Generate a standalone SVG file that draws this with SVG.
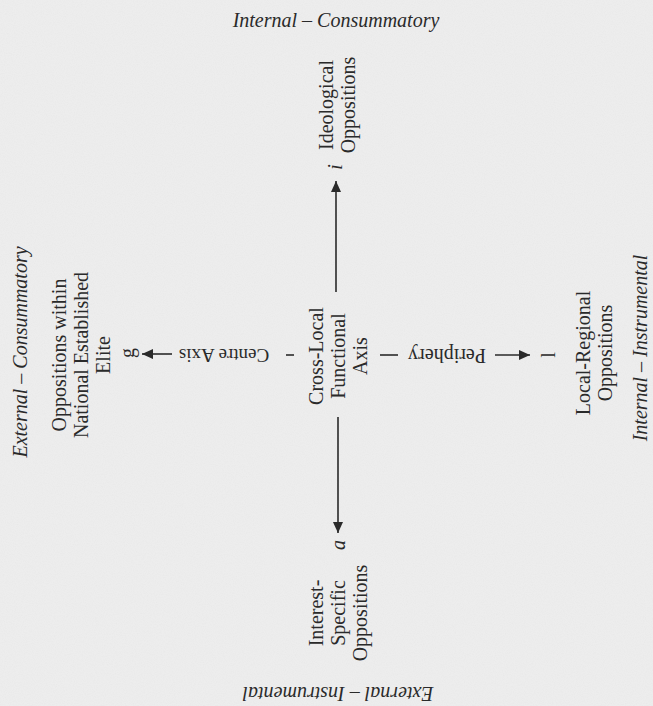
<svg xmlns="http://www.w3.org/2000/svg" width="653" height="706" viewBox="0 0 653 706">
<style>
text{font-family:"Liberation Serif","Times New Roman",serif;fill:#2a2a2a;font-size:20px;text-anchor:middle}
.it{font-style:italic}
.ln{stroke:#2a2a2a;stroke-width:1.6;fill:none}
</style>
<defs>
<marker id="ah" viewBox="0 0 12 12" markerWidth="12" markerHeight="11" refX="12" refY="5.5" orient="auto" markerUnits="userSpaceOnUse">
<path d="M0,0 L12,5.5 L0,11 z" fill="#2a2a2a"/>
</marker>
<filter id="paper" x="0" y="0" width="100%" height="100%">
<feTurbulence type="fractalNoise" baseFrequency="0.9" numOctaves="2" seed="3" result="n"/>
<feColorMatrix type="matrix" values="0 0 0 0 0.5  0 0 0 0 0.5  0 0 0 0 0.5  0 0 0 -1.2 0.75" in="n"/>
</filter>
</defs>
<rect width="653" height="706" fill="#ededed"/>
<rect width="653" height="706" filter="url(#paper)" opacity="0.12"/>
<g id="connectors">
<line class="ln" x1="336" y1="292" x2="336" y2="181" marker-end="url(#ah)"/>
<line class="ln" x1="338" y1="417" x2="338" y2="533" marker-end="url(#ah)"/>
<line class="ln" x1="172" y1="354" x2="142" y2="354" marker-end="url(#ah)"/>
<line class="ln" x1="495" y1="355" x2="530" y2="355" marker-end="url(#ah)"/>
<line class="ln" x1="286" y1="355" x2="294" y2="355"/>
<line class="ln" x1="380" y1="355" x2="398" y2="355"/>
</g>
<g id="label-top"><text class="it" x="336" y="27">Internal – Consummatory</text></g>
<g id="label-bottom"><text class="it" transform="translate(338,687) rotate(180)">External – Instrumental</text></g>
<g id="label-left"><text class="it" transform="translate(27,352) rotate(-90)">External – Consummatory</text></g>
<g id="label-right"><text class="it" transform="translate(647,348) rotate(-90)">Internal – Instrumental</text></g>
<g id="center"><text transform="translate(323,356) rotate(-90)"><tspan x="0" dy="0">Cross-Local</tspan><tspan x="0" dy="22">Functional</tspan><tspan x="0" dy="22">Axis</tspan></text></g>
<g id="centre-axis"><text transform="translate(224,349) rotate(180)" style="font-size:19px">Centre Axis</text></g>
<g id="periphery"><text transform="translate(447,349) rotate(180)">Periphery</text></g>
<g id="node-i">
<text class="it" transform="translate(342,167) rotate(-90)">i</text>
<text transform="translate(333,105) rotate(-90)"><tspan x="0" dy="0">Ideological</tspan><tspan x="0" dy="22">Oppositions</tspan></text>
</g>
<g id="node-g">
<text transform="translate(134,353) rotate(-90)">g</text>
<text transform="translate(66,355) rotate(-90)"><tspan x="0" dy="0">Oppositions within</tspan><tspan x="0" dy="22">National Established</tspan><tspan x="0" dy="22">Elite</tspan></text>
</g>
<g id="node-l">
<text transform="translate(555,355) rotate(-90)">l</text>
<text transform="translate(590,353) rotate(-90)"><tspan x="0" dy="0">Local-Regional</tspan><tspan x="0" dy="22">Oppositions</tspan></text>
</g>
<g id="node-a">
<text class="it" transform="translate(345,545) rotate(-90)">a</text>
<text transform="translate(323,613) rotate(-90)"><tspan x="0" dy="0">Interest-</tspan><tspan x="0" dy="22">Specific</tspan><tspan x="0" dy="22">Oppositions</tspan></text>
</g>
</svg>
